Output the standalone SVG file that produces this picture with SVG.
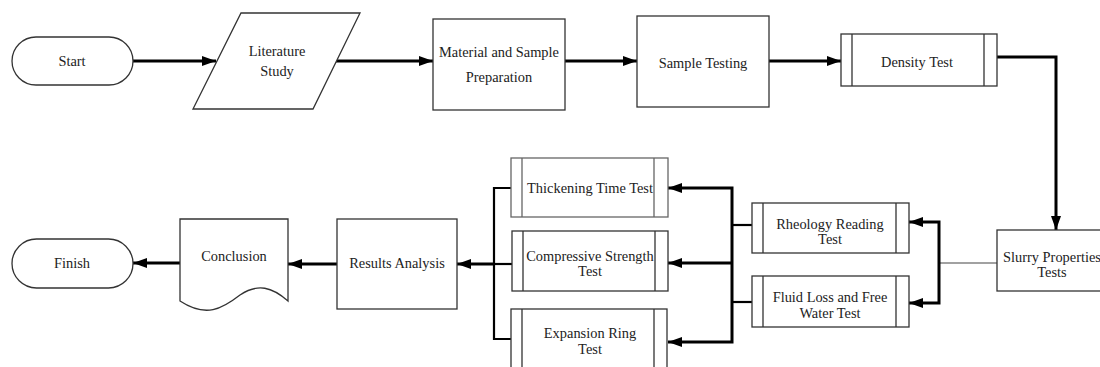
<svg xmlns="http://www.w3.org/2000/svg" width="1100" height="367" viewBox="0 0 1100 367">
<style>
.shape{fill:#fff;stroke:#333;stroke-width:1.3}
.gray{fill:#fff;stroke:#666;stroke-width:1.3}
.inner{fill:none;stroke:#333;stroke-width:1.3}
text{font-family:'Liberation Serif','DejaVu Serif',serif;font-size:14.4px;fill:#222;text-anchor:middle}
.c{fill:none;stroke:#000;stroke-width:3}
.cm{fill:none;stroke:#000;stroke-width:2.2}
.thin{fill:none;stroke:#444;stroke-width:1.2}
</style>
<defs>
<marker id="ah" viewBox="0 0 14 10" refX="14" refY="5" markerWidth="14" markerHeight="10" markerUnits="userSpaceOnUse" orient="auto">
<path d="M0,0 L14,5 L0,10 z" fill="#000"/>
</marker>
</defs>
<g id="connectors">
<path class="c" d="M133,61 H216" marker-end="url(#ah)"/>
<path class="c" d="M336,61 H433" marker-end="url(#ah)"/>
<path class="c" d="M565,61 H637" marker-end="url(#ah)"/>
<path class="c" d="M769,61 H841" marker-end="url(#ah)"/>
<path class="c" d="M997,57 H1056 V230" marker-end="url(#ah)"/>
<path class="thin" d="M997,263 H939"/>
<path class="c" d="M939,263 V222 H909" marker-end="url(#ah)"/>
<path class="c" d="M939,263 V303 H909" marker-end="url(#ah)"/>
<path class="cm" d="M752,225 H732"/>
<path class="cm" d="M752,302 H732"/>
<path class="c" d="M732,263 V188 H668" marker-end="url(#ah)"/>
<path class="c" d="M732,263 H668" marker-end="url(#ah)"/>
<path class="c" d="M732,263 V342 H668" marker-end="url(#ah)"/>
<path class="cm" d="M511,188 H494 V339 H511"/>
<path class="cm" d="M512,264 H494"/>
<path class="c" d="M494,264 H457" marker-end="url(#ah)"/>
<path class="c" d="M337,264 H288" marker-end="url(#ah)"/>
<path class="c" d="M180,263 H133" marker-end="url(#ah)"/>
</g>
<g id="start">
<rect class="shape" x="12" y="37" width="121" height="48" rx="24" ry="24"/>
<text x="72" y="66">Start</text>
</g>
<g id="literature">
<polygon class="shape" points="241,13 360,13 313,109 193,109"/>
<text x="277" y="56">Literature</text>
<text x="277" y="76">Study</text>
</g>
<g id="material">
<rect class="shape" x="433" y="19" width="132" height="91"/>
<text x="499" y="57">Material and Sample</text>
<text x="499" y="82">Preparation</text>
</g>
<g id="sampletesting">
<rect class="shape" x="637" y="16" width="132" height="91"/>
<text x="703" y="68">Sample Testing</text>
</g>
<g id="density">
<rect class="shape" x="841" y="34" width="156" height="52"/>
<path class="inner" d="M852,34 V86 M984,34 V86"/>
<text x="917" y="67">Density Test</text>
</g>
<g id="slurry">
<rect class="shape" x="997" y="230" width="110" height="61"/>
<text x="1052" y="262">Slurry Properties</text>
<text x="1052" y="277">Tests</text>
</g>
<g id="rheology">
<rect class="shape" x="752" y="203" width="157" height="50"/>
<path class="inner" d="M763,203 V253 M896,203 V253"/>
<text x="830" y="229">Rheology Reading</text>
<text x="830" y="244">Test</text>
</g>
<g id="fluidloss">
<rect class="shape" x="752" y="276" width="157" height="51"/>
<path class="inner" d="M763,276 V327 M896,276 V327"/>
<text x="830" y="302">Fluid Loss and Free</text>
<text x="830" y="318">Water Test</text>
</g>
<g id="thickening">
<rect class="gray" x="511" y="158" width="157" height="59"/>
<path class="gray" d="M522,158 V217 M654,158 V217"/>
<text x="590" y="193">Thickening Time Test</text>
</g>
<g id="compressive">
<rect class="shape" x="512" y="231" width="156" height="60"/>
<path class="inner" d="M523,231 V291 M655,231 V291"/>
<text x="590" y="261">Compressive Strength</text>
<text x="590" y="276">Test</text>
</g>
<g id="expansion">
<rect class="shape" x="511" y="309" width="156" height="64"/>
<path class="inner" d="M522,309 V373 M654,309 V373"/>
<text x="590" y="338">Expansion Ring</text>
<text x="590" y="354">Test</text>
</g>
<g id="results">
<rect class="shape" x="337" y="219" width="120" height="90"/>
<text x="397" y="268">Results Analysis</text>
</g>
<g id="conclusion">
<path class="shape" d="M180,219 H288 V301 C272,287 258,283 240,295 C222,309 206,318 180,301 Z"/>
<text x="234" y="261">Conclusion</text>
</g>
<g id="finish">
<rect class="shape" x="12" y="239" width="121" height="49" rx="24.5" ry="24.5"/>
<text x="72" y="268">Finish</text>
</g>
</svg>
